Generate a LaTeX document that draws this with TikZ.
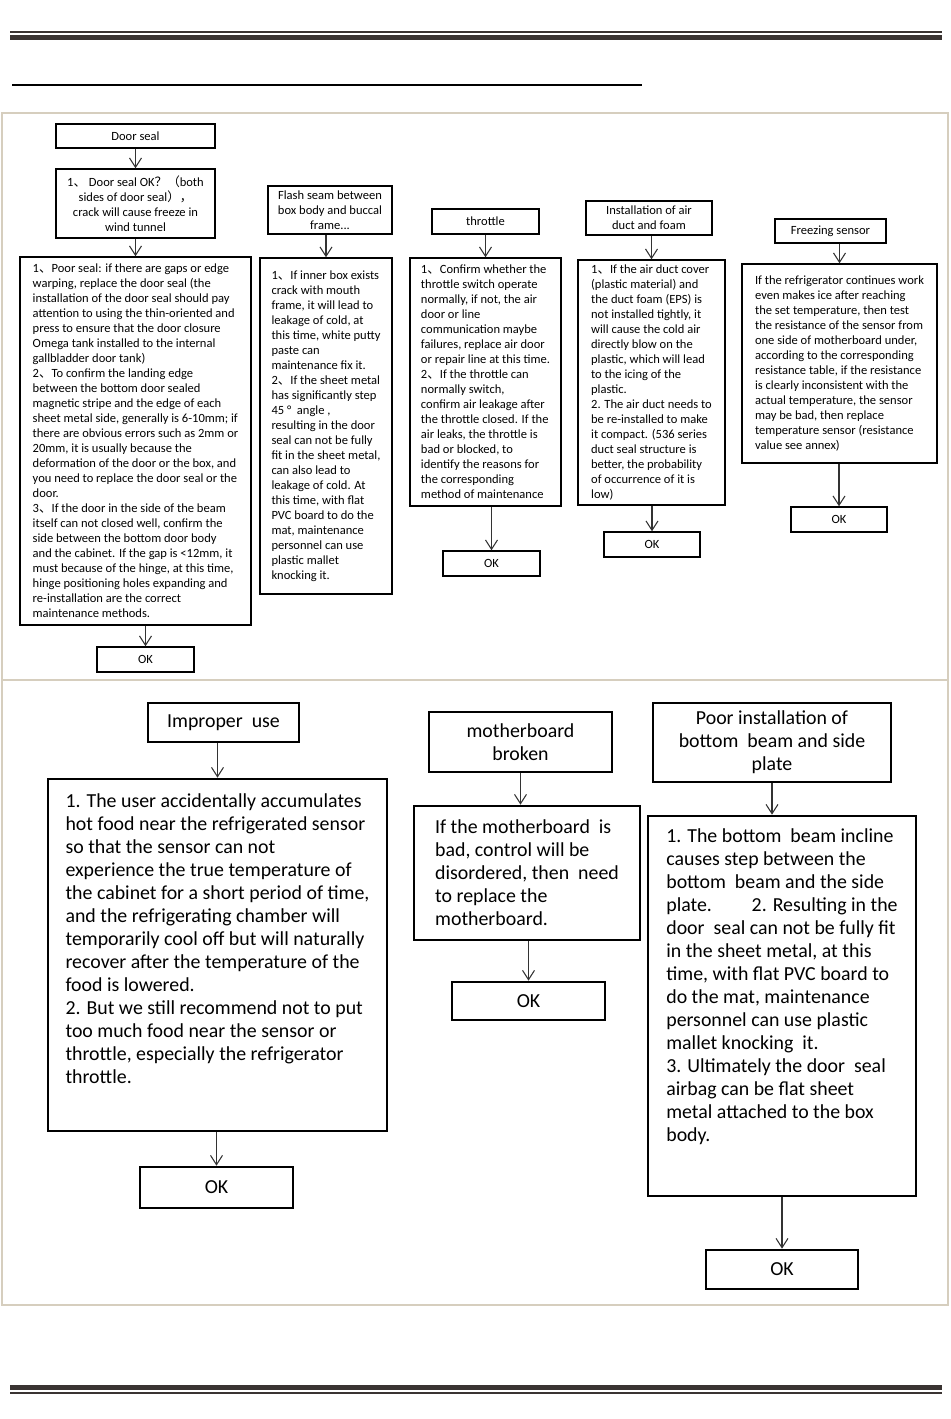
\documentclass[tikz,border=0pt]{standalone}
\usepackage{fontspec}
\setmainfont{Carlito}
\newfontfamily\cjk{Noto Sans CJK SC}
\usetikzlibrary{arrows.meta,positioning}

\definecolor{panelline}{RGB}{214,206,190}
\definecolor{bardark}{RGB}{58,52,50}
\newcommand{\zh}[1]{{\cjk #1}}

\begin{document}
\begin{tikzpicture}[x=0.75pt,y=-0.75pt,
    >={Straight Barb[length=7pt,width=9pt]},
    size/.style 2 args={minimum width=#1*0.75pt,minimum height=#2*0.75pt},
    small box/.style={draw,line width=1.1pt,align=left,inner sep=0pt,
        font=\fontsize{9.4}{11.25}\selectfont},
    small title/.style={small box,align=center},
    big box/.style={draw,line width=2pt,align=left,inner sep=0pt,
        font=\fontsize{14.9}{17.25}\selectfont},
    big title/.style={big box,align=center},
    arrow/.style={draw=black!80,line width=0.8pt},
    panel/.style={draw=panelline,line width=2.2pt}]

    \useasboundingbox (0,0) rectangle (950,1419);

    % Page rules and panels
    \draw[bardark,line width=0.8pt] (10,32) -- (942,32);
    \fill[bardark] (10,35) rectangle (942,40);
    \draw[line width=2.2pt] (12,85) -- (642,85);
    \draw[panel] (2,113) rectangle (948,680);
    \draw[panel] (2,680) rectangle (948,1305);
    \fill[bardark] (10,1385) rectangle (942,1390);
    \draw[bardark,line width=0.8pt] (10,1393) -- (942,1393);

    % Door seal
    \node[small title,size={159}{24}] (seal) at (135.5,136) {Door seal};
    \node[small title,size={159}{69}] (sealok) at (135.5,203.5)
        {1\zh{、} Door seal OK\zh{？}\zh{（}both\\ sides of door seal\zh{），}\\
         crack will cause freeze in\\ wind tunnel};
    \node[small box,size={231}{368}] (sealfix) at (135.5,441)
        {1\zh{、}Poor seal: if there are gaps or edge\\
         warping, replace the door seal (the\\
         installation of the door seal should pay\\
         attention to using the thin-oriented and\\
         press to ensure that the door closure\\
         Omega tank installed to the internal\\
         gallbladder door tank)\\
         2\zh{、}To confirm the landing edge\\
         between the bottom door sealed\\
         magnetic stripe and the edge of each\\
         sheet metal side, generally is 6-10mm; if\\
         there are obvious errors such as 2mm or\\
         20mm, it is usually because the\\
         deformation of the door or the box, and\\
         you need to replace the door seal or the\\
         door.\\
         3\zh{、}If the door in the side of the beam\\
         itself can not closed well, confirm the\\
         side between the bottom door body\\
         and the cabinet. If the gap is <12mm, it\\
         must because of the hinge, at this time,\\
         hinge positioning holes expanding and\\
         re-installation are the correct\\
         maintenance methods.};
    \node[small title,size={97}{25}] (ok1) at (145.5,659.5) {OK};

    % Flash seam
    \node[small title,size={124}{48}] (flash) at (330,210)
        {Flash seam between\\ box body and buccal\\ frame...};
    \node[small box,size={132}{336}] (flashfix) at (326,426)
        {1\zh{、}If inner box exists\\
         crack with mouth\\
         frame, it will lead to\\
         leakage of cold, at\\
         this time, white putty\\
         paste can\\
         maintenance fix it.\\
         2\zh{、}If the sheet metal\\
         has significantly step\\
         45 °\ \ angle ,\\
         resulting in the door\\
         seal can not be fully\\
         fit in the sheet metal,\\
         can also lead to\\
         leakage of cold. At\\
         this time, with flat\\
         PVC board to do the\\
         mat, maintenance\\
         personnel can use\\
         plastic mallet\\
         knocking it.};

    % Throttle
    \node[small title,size={107}{25}] (thr) at (485.5,221.5) {throttle};
    \node[small box,size={151}{248}] (thrfix) at (485.5,382)
        {1\zh{、}Confirm whether the\\
         throttle switch operate\\
         normally, if not, the air\\
         door or line\\
         communication maybe\\
         failures, replace air door\\
         or repair line at this time.\\
         2\zh{、}If the throttle can\\
         normally switch,\\
         confirm air leakage\ after\\
         the throttle closed. If the\\
         air leaks, the throttle is\\
         bad or blocked, to\\
         identify the reasons for\\
         the corresponding\\
         method of maintenance};
    \node[small title,size={97}{25}] (ok3) at (491.5,563.5) {OK};

    % Air duct
    \node[small title,size={126}{34}] (duct) at (649,218)
        {Installation of air\\ duct and foam};
    \node[small box,size={147}{245}] (ductfix) at (651.5,382.5)
        {1\zh{、}If the air duct cover\\
         (plastic material) and\\
         the duct foam (EPS) is\\
         not installed tightly, it\\
         will cause the cold air\\
         directly blow on the\\
         plastic, which will lead\\
         to the icing of the\\
         plastic.\\
         2. The air duct needs to\\
         be re-installed to make\\
         it compact. (536 series\\
         duct seal structure is\\
         better, the probability\\
         of occurrence of it is\\
         low)};
    \node[small title,size={96}{25}] (ok4) at (652,544.5) {OK};

    % Freezing sensor
    \node[small title,size={111}{24}] (sens) at (830.5,231) {Freezing sensor};
    \node[small box,size={195}{199}] (sensfix) at (839.5,363.5)
        {If the refrigerator continues work\\
         even makes ice after reaching\\
         the set temperature, then test\\
         the resistance of the sensor from\\
         one side of motherboard under,\\
         according to the corresponding\\
         resistance table, if the resistance\\
         is clearly inconsistent with the\\
         actual temperature, the sensor\\
         may be bad, then replace\\
         temperature sensor (resistance\\
         value see annex)};
    \node[small title,size={96}{25}] (ok5) at (839,519.5) {OK};

    % Improper use
    \node[big title,size={151}{39}] (use) at (223.5,722.5) {Improper\ \ use};
    \node[big box,size={339}{352}] (usefix) at (217.5,955)
        {1. The user accidentally accumulates\\
         hot food near the refrigerated sensor\\
         so that the sensor can not\\
         experience the true temperature of\\
         the cabinet for a short period of time,\\
         and the refrigerating chamber will\\
         temporarily cool off but will naturally\\
         recover after the temperature of the\\
         food is lowered.\\
         2. But we still recommend not to put\\
         too much food near the sensor or\\
         throttle, especially the refrigerator\\
         throttle.\\ \rule{0pt}{24pt}};
    \node[big title,size={153}{41}] (ok6) at (216.5,1187.5) {OK};

    % Motherboard
    \node[big title,size={183}{60}] (board) at (520.5,742) {motherboard\\ broken};
    \node[big box,size={226}{134}] (boardfix) at (527,873)
        {If the motherboard\ \ is\\
         bad, control will be\\
         disordered, then\ \ need\\
         to replace the\\
         motherboard.};
    \node[big title,size={153}{38}] (ok7) at (528.5,1001) {OK};

    % Bottom beam
    \node[big title,size={238}{79}] (beam) at (772,742.5)
        {Poor installation of\\ bottom\ \ beam and side\\ plate};
    \node[big box,size={268}{380}] (beamfix) at (782,1006)
        {1. The bottom\ \ beam incline\\
         causes step between the\\
         bottom\ \ beam and the side\\
         plate.\hspace{2em}2. Resulting in the\\
         door\ \ seal can not be fully fit\\
         in the sheet metal, at this\\
         time, with flat PVC board to\\
         do the mat, maintenance\\
         personnel can use plastic\\
         mallet knocking\ \ it.\\
         3. Ultimately the door\ \ seal\\
         airbag can be flat sheet\\
         metal attached to the box\\
         body.\\ \rule{0pt}{28pt}};
    \node[big title,size={152}{39}] (ok8) at (782,1269.5) {OK};

    % Draw arrows
    \path[->,every edge/.append style={arrow}]
        (seal) edge (sealok)
        (sealok) edge (sealfix)
        (ok1 |- sealfix.south) edge (ok1)
        (flashfix |- flash.south) edge (flashfix)
        (thr) edge (thrfix)
        (ok3 |- thrfix.south) edge (ok3)
        (ductfix |- duct.south) edge (ductfix)
        (ok4 |- ductfix.south) edge (ok4)
        (sensfix |- sens.south) edge (sensfix)
        (ok5 |- sensfix.south) edge (ok5)
        (usefix |- use.south) edge (usefix)
        (ok6 |- usefix.south) edge (ok6)
        (board.south) edge (board.south |- boardfix.north)
        (ok7 |- boardfix.south) edge (ok7)
        (beam.south) edge (beam.south |- beamfix.north)
        (ok8 |- beamfix.south) edge (ok8);

\end{tikzpicture}
\end{document}
